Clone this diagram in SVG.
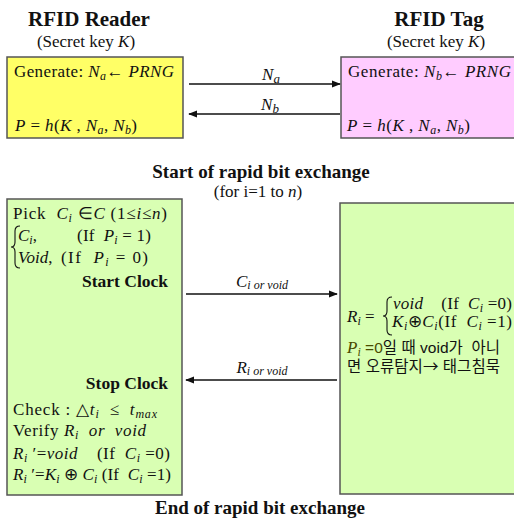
<svg xmlns="http://www.w3.org/2000/svg" width="514" height="520" viewBox="0 0 514 520">
  <style>
    text { white-space: pre; }
    .t { font-family: "Liberation Serif", "Times New Roman", serif; font-size: 17px; fill: #111; }
    .h { font-family: "Liberation Serif", "Times New Roman", serif; font-weight: bold; fill: #111; }
    .i { font-style: italic; }
    .s { font-size: 12px; }
    .k { font-family: "Liberation Sans", "Noto Sans CJK KR", sans-serif; font-size: 15.5px; fill: #111; }
    .olive { fill: #4a4a00; }
    .box { stroke: #555; stroke-width: 1.5; }
    .line { stroke: #111; stroke-width: 1.3; fill: none; }
    .brace { stroke: #111; stroke-width: 1.1; fill: none; }
  </style>
  <defs>
    <marker id="arrow" viewBox="0 0 10 10" refX="9" refY="5" markerWidth="9" markerHeight="9" markerUnits="userSpaceOnUse" orient="auto">
      <path d="M0,1 L10,5 L0,9 z" fill="#111"/>
    </marker>
  </defs>

  <rect width="514" height="520" fill="#fff"/>

  <!-- titles -->
  <text class="h" x="89" y="26" font-size="21" text-anchor="middle">RFID Reader</text>
  <text class="t" x="86" y="47" font-size="16" text-anchor="middle">(Secret key <tspan class="i">K</tspan>)</text>
  <text class="h" x="439" y="26" font-size="21" text-anchor="middle">RFID Tag</text>
  <text class="t" x="436" y="47" font-size="16" text-anchor="middle">(Secret key <tspan class="i">K</tspan>)</text>

  <!-- reader key setup -->
  <g id="reader-setup">
    <rect class="box" x="7" y="57" width="176" height="81" fill="#ffff66"/>
    <text class="t" x="14" y="77" textLength="160" lengthAdjust="spacing">Generate: <tspan class="i">N<tspan class="s" dy="3">a</tspan></tspan><tspan dy="-3">← </tspan><tspan class="i">PRNG</tspan></text>
    <text class="t" x="15" y="131" textLength="122" lengthAdjust="spacing"><tspan class="i">P</tspan> = <tspan class="i">h</tspan>(<tspan class="i">K</tspan> , <tspan class="i">N<tspan class="s" dy="3">a</tspan></tspan><tspan dy="-3">, </tspan><tspan class="i">N<tspan class="s" dy="3">b</tspan></tspan><tspan dy="-3">)</tspan></text>
  </g>

  <!-- tag key setup -->
  <g id="tag-setup">
    <rect class="box" x="341" y="57" width="180" height="81" fill="#ffccff"/>
    <text class="t" x="348" y="77" textLength="163" lengthAdjust="spacing">Generate: <tspan class="i">N<tspan class="s" dy="3">b</tspan></tspan><tspan dy="-3">← </tspan><tspan class="i">PRNG</tspan></text>
    <text class="t" x="347" y="131" textLength="123" lengthAdjust="spacing"><tspan class="i">P</tspan> = <tspan class="i">h</tspan>(<tspan class="i">K</tspan> , <tspan class="i">N<tspan class="s" dy="3">a</tspan></tspan><tspan dy="-3">, </tspan><tspan class="i">N<tspan class="s" dy="3">b</tspan></tspan><tspan dy="-3">)</tspan></text>
  </g>

  <!-- rapid bit exchange heading -->
  <text class="h" x="261" y="178" font-size="19" text-anchor="middle">Start of rapid bit exchange</text>
  <text class="t" x="258" y="197" font-size="16.5" text-anchor="middle">(for i=1 to <tspan class="i">n</tspan>)</text>

  <!-- reader exchange -->
  <g id="reader-exchange">
    <rect class="box" x="7" y="199" width="175" height="296" fill="#d9ffb3"/>
    <text class="t" x="13" y="219" textLength="154" lengthAdjust="spacing">Pick  <tspan class="i">C<tspan class="s" dy="3">i</tspan></tspan><tspan dy="-3"> ∈</tspan><tspan class="i">C</tspan> (1≤<tspan class="i">i</tspan>≤<tspan class="i">n</tspan>)</text>
    <path class="brace" d="M20,226 Q15,226 15,231 L15,242 Q15,247 11,247 Q15,247 15,252 L15,263 Q15,268 20,268"/>
    <text class="t" x="18" y="241"><tspan class="i">C<tspan class="s" dy="3">i</tspan></tspan><tspan dy="-3">,</tspan></text>
    <text class="t" x="77" y="241" textLength="74" lengthAdjust="spacing">(If  <tspan class="i">P<tspan class="s" dy="3">i</tspan></tspan><tspan dy="-3"> = 1)</tspan></text>
    <text class="t" x="18" y="263"><tspan class="i">Void</tspan>,</text>
    <text class="t" x="61" y="263" textLength="87" lengthAdjust="spacing">(If  <tspan class="i">P<tspan class="s" dy="3">i</tspan></tspan><tspan dy="-3"> = 0)</tspan></text>
    <text class="h" x="168" y="287" font-size="17.5" text-anchor="end">Start Clock</text>
    <text class="h" x="168" y="389" font-size="17.5" text-anchor="end">Stop Clock</text>
    <text class="t" x="13" y="415" textLength="144" lengthAdjust="spacing">Check : △<tspan class="i">t<tspan class="s" dy="3">i</tspan></tspan><tspan dy="-3">  ≤  </tspan><tspan class="i">t<tspan class="s" dy="3">max</tspan></tspan></text>
    <text class="t" x="13" y="436" textLength="133" lengthAdjust="spacing">Verify <tspan class="i">R<tspan class="s" dy="3">i</tspan></tspan><tspan class="i" dy="-3">  or  void</tspan></text>
    <text class="t" x="13" y="459" textLength="157" lengthAdjust="spacing"><tspan class="i">R<tspan class="s" dy="3">i</tspan></tspan><tspan dy="-3"> ′=</tspan><tspan class="i">void</tspan>    (If  <tspan class="i">C<tspan class="s" dy="3">i</tspan></tspan><tspan dy="-3"> =0)</tspan></text>
    <text class="t" x="13" y="480" textLength="158" lengthAdjust="spacing"><tspan class="i">R<tspan class="s" dy="3">i</tspan></tspan><tspan dy="-3"> ′=</tspan><tspan class="i">K<tspan class="s" dy="3">i</tspan></tspan><tspan dy="-3"> ⊕ </tspan><tspan class="i">C<tspan class="s" dy="3">i</tspan></tspan><tspan dy="-3"> (If  </tspan><tspan class="i">C<tspan class="s" dy="3">i</tspan></tspan><tspan dy="-3"> =1)</tspan></text>
  </g>

  <!-- tag exchange -->
  <g id="tag-exchange">
    <rect class="box" x="340" y="203" width="181" height="291" fill="#d9ffb3"/>
    <text class="t" x="347" y="322"><tspan class="i">R<tspan class="s" dy="3">i</tspan></tspan><tspan dy="-3"> =</tspan></text>
    <path class="brace" d="M392,297 Q387,297 387,302 L387,311 Q387,316 383,316 Q387,316 387,321 L387,330 Q387,335 392,335"/>
    <text class="t" x="393" y="309" textLength="119" lengthAdjust="spacing"><tspan class="i">void</tspan>    (If  <tspan class="i">C<tspan class="s" dy="3">i</tspan></tspan><tspan dy="-3"> =0)</tspan></text>
    <text class="t" x="392" y="327" textLength="120" lengthAdjust="spacing"><tspan class="i">K<tspan class="s" dy="3">i</tspan></tspan><tspan dy="-3">⊕</tspan><tspan class="i">C<tspan class="s" dy="3">i</tspan></tspan><tspan dy="-3">(If  </tspan><tspan class="i">C<tspan class="s" dy="3">i</tspan></tspan><tspan dy="-3"> =1)</tspan></text>
    <text class="k" x="347" y="353" textLength="153" lengthAdjust="spacing"><tspan class="t i olive" font-size="16">P<tspan class="s" dy="3">i</tspan></tspan><tspan class="olive" dy="-3"> =0</tspan>일 때 void가  아니</text>
    <text class="k" x="347" y="372" textLength="153" lengthAdjust="spacing">면 오류탐지<tspan font-family="Noto Sans CJK KR, sans-serif">→</tspan> 태그침묵</text>
  </g>

  <text class="h" x="260" y="514" font-size="19" text-anchor="middle">End of rapid bit exchange</text>

  <!-- message connectors -->
  <g id="connectors">
    <line class="line" x1="189" y1="84" x2="340" y2="84" marker-end="url(#arrow)"/>
    <text class="t i" x="271" y="80" font-size="18" text-anchor="middle">N<tspan font-size="13" dy="3">a</tspan></text>
    <line class="line" x1="340" y1="114" x2="189" y2="114" marker-end="url(#arrow)"/>
    <text class="t i" x="270" y="110" font-size="18" text-anchor="middle">N<tspan font-size="13" dy="3">b</tspan></text>
    <line class="line" x1="186" y1="294" x2="337" y2="294" marker-end="url(#arrow)"/>
    <text class="t i" x="262" y="287" font-size="18" text-anchor="middle">C<tspan class="s" dy="2">i or void</tspan></text>
    <line class="line" x1="337" y1="380" x2="186" y2="380" marker-end="url(#arrow)"/>
    <text class="t i" x="262" y="373" font-size="18" text-anchor="middle">R<tspan class="s" dy="2">i or void</tspan></text>
  </g>
</svg>
